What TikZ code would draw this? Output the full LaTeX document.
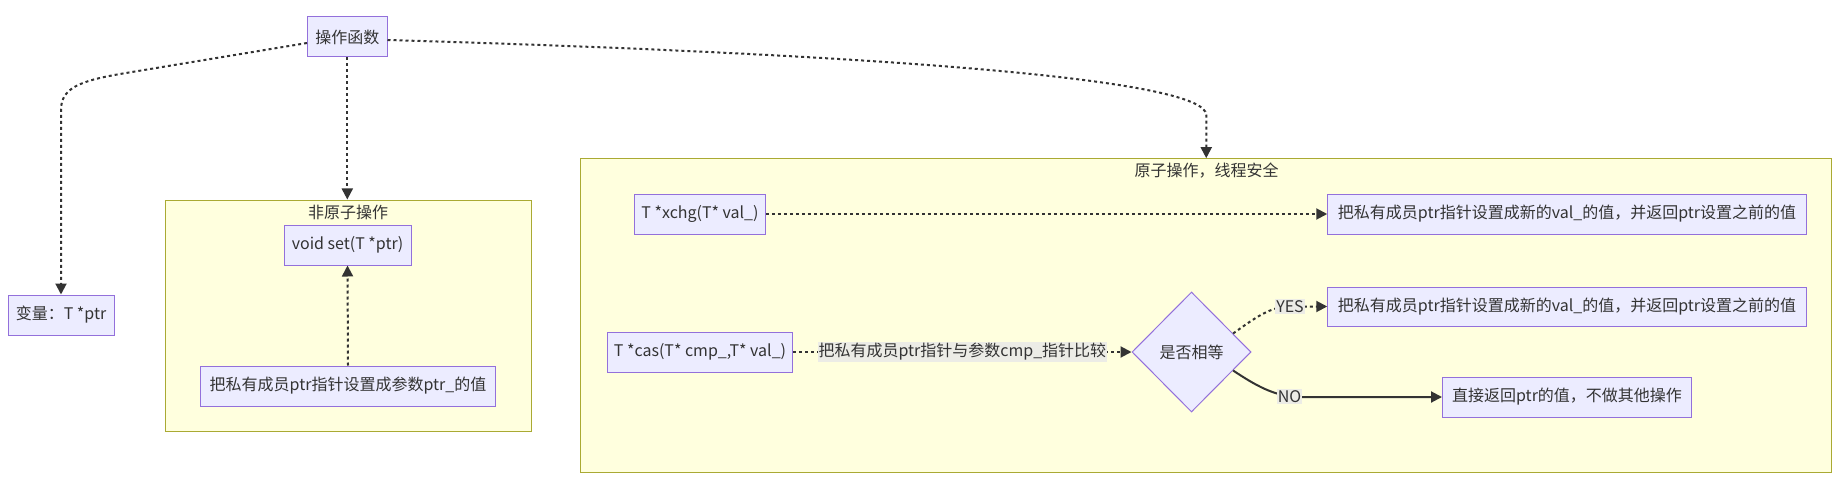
\documentclass[tikz,border=0pt]{standalone}
\usepackage{fontspec}
\setmainfont{Noto Sans CJK SC}
\usetikzlibrary{arrows.meta,shapes.geometric}
\newdimen\px \px=0.75pt
\definecolor{nodefill}{HTML}{ECECFF}
\definecolor{nodeline}{HTML}{9370DB}
\definecolor{clfill}{HTML}{FFFFDE}
\definecolor{clline}{HTML}{AAAA33}
\definecolor{edgec}{HTML}{333333}
\definecolor{lblfill}{RGB}{236,236,230}
\begin{document}
\begin{tikzpicture}[x=1\px,y=-1\px,font=\fontsize{12pt}{14pt}\selectfont,
  box/.style={draw=nodeline,fill=nodefill,line width=0.75pt,inner sep=0,minimum height=30pt,text=edgec},
  cluster/.style={draw=clline,fill=clfill,line width=0.75pt,inner sep=0},
  dotedge/.style={draw=edgec,line width=1.5pt,dash pattern=on 2.25pt off 2.25pt,-{Triangle[length=8.25pt,width=8.25pt]}},
  solidedge/.style={draw=edgec,line width=1.5pt,-{Triangle[length=8.25pt,width=8.25pt]}},
  lbl/.style={fill=lblfill,inner sep=0.75pt,text=edgec},
  ttl/.style={inner sep=0,text=edgec}]
\useasboundingbox (0,0) rectangle (1841,499);
% clusters
\node[cluster,minimum width=274.5pt,minimum height=173.25pt] (na) at (348,315.5) {};
\node[ttl] (natitle) at (348,212) {非原子操作};
\node[cluster,minimum width=937.9pt,minimum height=235pt] (at) at (1206.25,315.35) {};
\node[ttl] (attitle) at (1206.5,171) {原子操作，线程安全};
% nodes
\node[box,minimum width=60.4pt] (op) at (347.3,37) {操作函数};
\node[box,minimum width=79.5pt] (var) at (61,315) {变量：T *ptr};
\node[box,minimum width=95.25pt] (setnode) at (347.5,245) {void set(T *ptr)};
\node[box,minimum width=221.25pt] (setptr) at (348,386) {把私有成员ptr指针设置成参数ptr\_的值};
\node[box,minimum width=97.9pt] (xchg) at (700,214) {T *xchg(T* val\_)};
\node[box,minimum width=358.9pt] (xchgres) at (1567,214) {把私有成员ptr指针设置成新的val\_的值，并返回ptr设置之前的值};
\node[box,minimum width=139.1pt] (cas) at (700,352) {T *cas(T* cmp\_,T* val\_)};
\node[draw=nodeline,fill=nodefill,line width=0.75pt,diamond,inner sep=0,minimum width=89.25pt,minimum height=90pt,text=edgec] (cmp) at (1191.5,352) {是否相等};
\node[box,minimum width=358.9pt,minimum height=29.25pt] (yesres) at (1567,306.5) {把私有成员ptr指针设置成新的val\_的值，并返回ptr设置之前的值};
\node[box,minimum width=186.75pt] (nores) at (1567,397) {直接返回ptr的值，不做其他操作};
% edges
\coordinate (opw) at (307,43);
\coordinate (ope) at (387.5,40);
\draw[dotedge] (opw) -- (120,74) .. controls (80,81) and (61,88) .. (61,110) -- (var.north);
\draw[dotedge] (op.south) -- (op.south |- na.north);
\draw[dotedge] (ope) .. controls (900,55) and (1206.25,80) .. (1206.25,115) -- (at.north);
\draw[dotedge] (setptr.north) -- (setnode.south);
\draw[dotedge] (xchg.east) -- (xchgres.west);
\draw[dotedge] (cas.east) -- node[lbl] (caslbl) {把私有成员ptr指针与参数cmp\_指针比较} (cmp.west);
\draw[dotedge] (cmp.24) .. controls (1255,318) and (1270,306.5) .. (1290,306.5) -- (yesres.west);
\node[lbl] (yeslbl) at (1290,306.5) {YES};
\draw[solidedge] (cmp.-24) .. controls (1255,385) and (1275,397) .. (1300,397) -- (nores.west);
\node[lbl] (nolbl) at (1289.5,396.5) {NO};
\end{tikzpicture}
\end{document}
